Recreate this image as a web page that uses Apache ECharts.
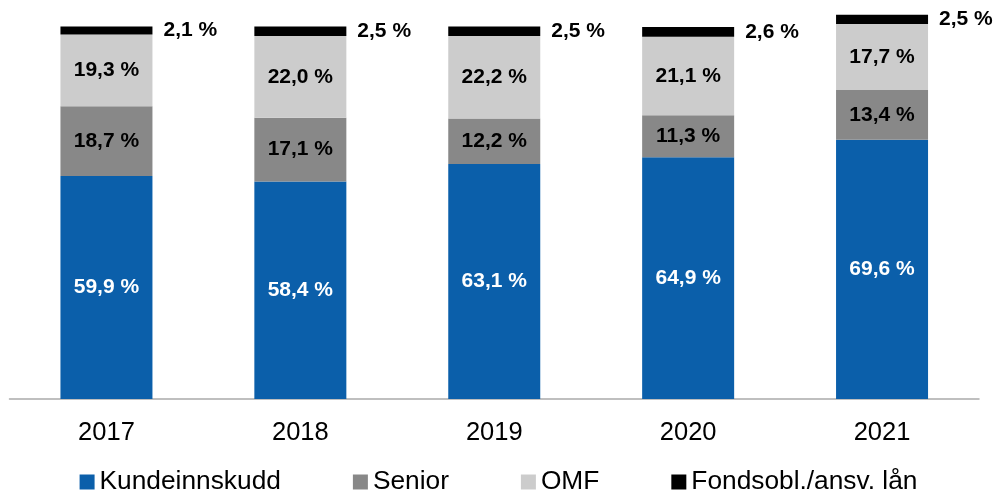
<!DOCTYPE html>
<html>
<head>
<meta charset="utf-8">
<script src="https://cdn.jsdelivr.net/npm/echarts@6/dist/echarts.min.js"></script>
<style>
html,body{margin:0;padding:0;background:#fff;}
#chart{width:997px;height:495px;}
</style>
</head>
<body>
<div id="chart"></div>
<script>
const years = ['2017', '2018', '2019', '2020', '2021'];
const kundeinnskudd = [59.9, 58.4, 63.1, 64.9, 69.6];
const senior = [18.7, 17.1, 12.2, 11.3, 13.4];
const omf = [19.3, 22.0, 22.2, 21.1, 17.7];
const fondsobl = [2.1, 2.5, 2.5, 2.6, 2.5];
const seriesNames = ['Kundeinnskudd', 'Senior', 'OMF', 'Fondsobl./ansv. lån'];
const seriesColors = ['#0B5FAA', '#888888', '#CCCCCC', '#000000'];

const fmt = p => p.value.toFixed(1).replace('.', ',') + ' %';
const font = 'Arial, "Liberation Sans", sans-serif';

function mk(name, data, color, labelColor, pos, dist) {
  return {
    name: name, type: 'bar', stack: 'total', data: data, barWidth: 92,
    itemStyle: { color: color },
    label: {
      show: true, position: pos, distance: dist, formatter: fmt,
      color: labelColor, fontSize: 21, fontWeight: 'bold', fontFamily: font
    },
    emphasis: { disabled: true }
  };
}

const chart = echarts.init(document.getElementById('chart'), null, { renderer: 'canvas' });
chart.setOption({
  animation: false,
  backgroundColor: '#ffffff',
  grid: { left: 9.5, right: 18, top: 8, bottom: 96 },
  xAxis: {
    type: 'category', data: years,
    axisLine: { show: true, lineStyle: { color: '#AAAAAA', width: 1.5 } },
    axisTick: { show: false },
    axisLabel: { color: '#000', fontSize: 25.5, fontFamily: font, margin: 21 }
  },
  yAxis: { type: 'value', min: 0, max: 105, show: false, splitLine: { show: false } },
  legend: {
    data: seriesNames, top: 469, left: 'center',
    itemWidth: 15, itemHeight: 15, itemGap: 72, padding: 0,
    icon: 'rect',
    textStyle: { color: '#000', fontSize: 26.3, fontFamily: font }
  },
  series: [
    mk(seriesNames[0], kundeinnskudd, seriesColors[0], '#ffffff', 'inside', 5),
    mk(seriesNames[1], senior, seriesColors[1], '#000000', 'inside', 5),
    mk(seriesNames[2], omf, seriesColors[2], '#000000', 'inside', 5),
    mk(seriesNames[3], fondsobl, seriesColors[3], '#000000', 'right', 11)
  ]
});
</script>
</body>
</html>
